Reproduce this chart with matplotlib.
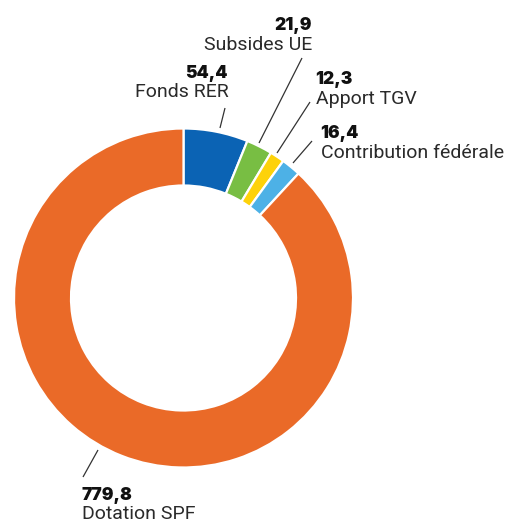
import matplotlib
matplotlib.use("Agg")
import matplotlib.pyplot as plt

categories = ["Fonds RER", "Subsides UE", "Apport TGV", "Contribution fédérale", "Dotation SPF"]
values = [54.4, 21.9, 12.3, 16.4, 779.8]
value_labels = ["54,4", "21,9", "12,3", "16,4", "779,8"]
colors = ["#0b63b4", "#78be43", "#fdd20a", "#4db1e6", "#ea6a28"]

W, H = 509, 523
fig = plt.figure(figsize=(W / 100, H / 100), dpi=100)
ax = fig.add_axes([0, 0, 1, 1])
ax.set_xlim(0, W)
ax.set_ylim(0, H)
ax.axis("off")

def Y(y):
    return H - y

cx, cy, R = 183.5, 298, 169.5
ax.pie(values, colors=colors, startangle=90, counterclock=False,
       center=(cx, Y(cy)), radius=R,
       wedgeprops=dict(width=57, edgecolor="white", linewidth=1.6))
ax.set_xlim(0, W)
ax.set_ylim(0, H)
ax.set_aspect("equal")

# label layout: (value pos, label pos, alignment, leader line)
layout = [
    ((228, 73), (229, 92), "right", ((220, 128), (225, 108))),
    ((312, 25), (312, 45), "right", ((259, 143), (302, 58))),
    ((315, 80), (316, 99), "left", ((277, 153), (310, 102))),
    ((320, 133), (321, 153), "left", ((293, 163), (312, 141))),
    ((82, 495), (82, 514), "left", ((98, 450), (83, 477))),
]

for (vp, lp, ha, line), vl, cat in zip(layout, value_labels, categories):
    ax.text(vp[0], Y(vp[1]), vl, ha=ha, va="center", fontsize=12.5,
            fontweight="black", family="Inter", color="#111111")
    ax.text(lp[0], Y(lp[1]), cat, ha=ha, va="center", fontsize=14,
            family="Roboto", color="#2a2a2a")
    ax.plot([line[0][0], line[1][0]], [Y(line[0][1]), Y(line[1][1])],
            color="#333333", lw=0.9, solid_capstyle="butt")

fig.savefig("out.png", dpi=100)
